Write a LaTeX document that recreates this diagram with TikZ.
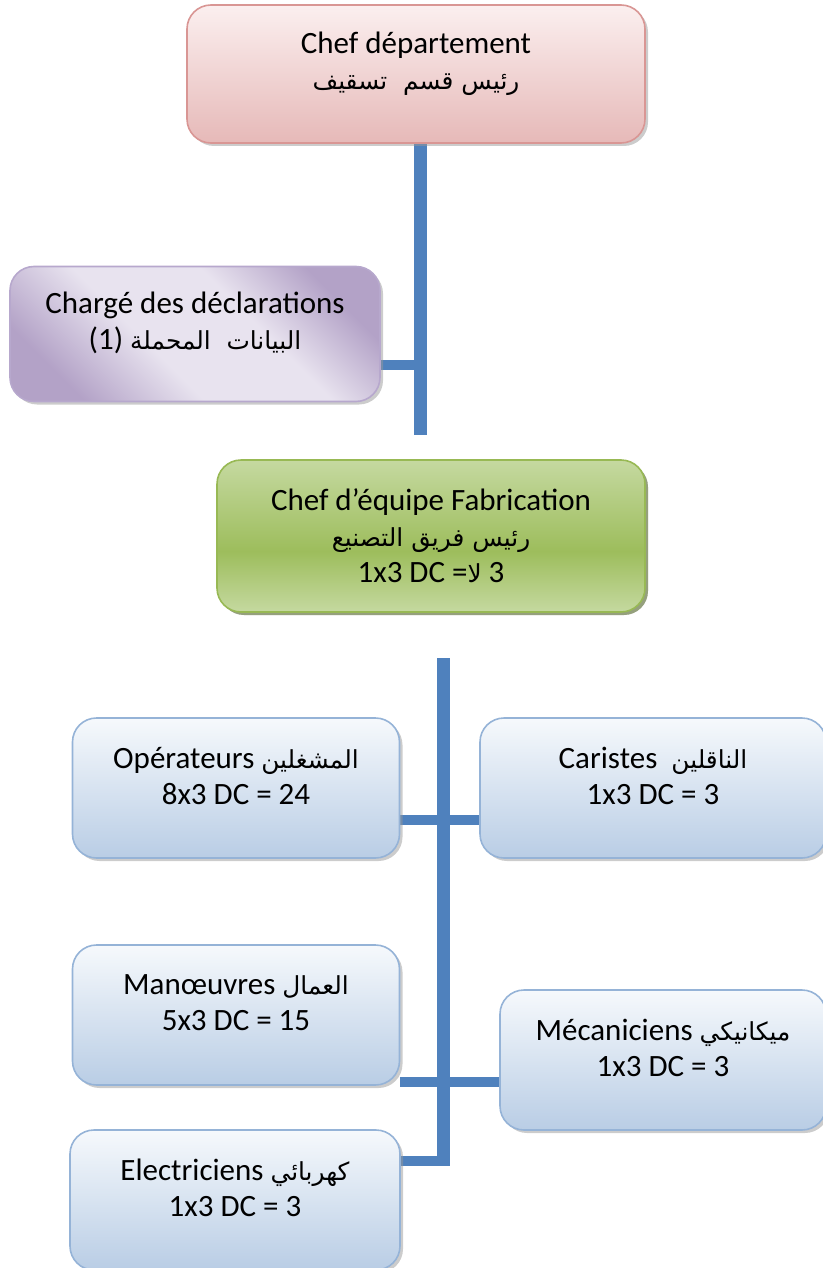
\documentclass[tikz,border=0pt]{standalone}
\usepackage{fontspec}
\setmainfont{Carlito}
\newfontfamily\arabicfont[Script=Arabic,Scale=0.8]{DejaVu Sans}
\TeXXeTstate=1
\usetikzlibrary{shadows,backgrounds}

\definecolor{linkblue}{HTML}{4F81BD}
\definecolor{pinktop}{HTML}{FBEFEF}
\definecolor{pinkbot}{HTML}{E6B9B8}
\definecolor{pinkline}{HTML}{D99694}
\definecolor{lilaclight}{HTML}{E8E3EF}
\definecolor{lilacdark}{HTML}{B3A2C7}
\definecolor{lilacline}{HTML}{B7A8CD}
\definecolor{greenlight}{HTML}{C5D9A0}
\definecolor{greenmid}{HTML}{9DBD5C}
\definecolor{greenline}{HTML}{98B954}
\definecolor{greenshadow}{HTML}{5F7530}
\definecolor{bluetop}{HTML}{F6F9FC}
\definecolor{bluebot}{HTML}{B9CDE5}
\definecolor{blueline}{HTML}{95B3D7}

\pgfdeclarehorizontalshading{lilacshade}{100bp}{color(0bp)=(lilacdark);
  color(25bp)=(lilacdark); color(42bp)=(lilaclight); color(60bp)=(lilaclight);
  color(75bp)=(lilacdark); color(100bp)=(lilacdark)}
\pgfdeclareverticalshading{greenshade}{100bp}{color(0bp)=(greenlight);
  color(25bp)=(greenlight); color(45bp)=(greenmid); color(75bp)=(greenlight);
  color(100bp)=(greenlight)}

\newcommand{\ar}[1]{{\arabicfont\beginR #1\endR}}

\begin{document}
\begin{tikzpicture}[x=1pt, y=-1pt,
  box/.style={draw, line width=1.6pt, rounded corners=24pt, align=center,
    inner sep=0pt, font=\fontsize{31}{36}\selectfont,
    drop shadow={shadow xshift=3pt, shadow yshift=-3pt, fill=black!40}},
  chiefbox/.style={box, draw=pinkline, top color=pinktop, bottom color=pinkbot},
  deskbox/.style={box, draw=lilacline, shade, shading=lilacshade, shading angle=45},
  teambox/.style={box, draw=greenline, shade, shading=greenshade,
    drop shadow={shadow xshift=3pt, shadow yshift=-3pt, fill=greenshadow}},
  staffbox/.style={box, draw=blueline, top color=bluetop, bottom color=bluebot,
    minimum height=140pt},
  trunk/.style={linkblue, line width=13pt},
  branch/.style={linkblue, line width=10pt}]

  \useasboundingbox (0,0) rectangle (822,1268);

  \node [chiefbox, minimum width=458pt, minimum height=138pt] (chef) at (416,74)
    {Chef département\\ \ar{رئيس قسم\ \ تسقيف}\\[-9pt]~};
  \node [deskbox, minimum width=370pt, minimum height=135pt] (charge) at (195,334)
    {Chargé des déclarations\\ (1) \ar{البيانات\ \ المحملة}\\[-9pt]~};
  \node [teambox, minimum width=428pt, minimum height=152pt] (team) at (431,536)
    {Chef d’équipe Fabrication\\ \ar{رئيس فريق التصنيع}\\ 1x3 DC =\ar{لا} 3};

  \node [staffbox, minimum width=327pt] (oper) at (236,788)
    {Opérateurs \ar{المشغلين}\\ 8x3 DC = 24\\[-12pt]~};
  \node [staffbox, minimum width=346pt] (cari) at (653,788)
    {Caristes\ \ \ar{الناقلين}\\ 1x3 DC = 3\\[-12pt]~};
  \node [staffbox, minimum width=327pt] (manoe) at (236,1015)
    {Manœuvres \ar{العمال}\\ 5x3 DC = 15\\[-12pt]~};
  \node [staffbox, minimum width=326pt] (meca) at (663,1060)
    {Mécaniciens \ar{ميكانيكي}\\ 1x3 DC = 3\\[-12pt]~};
  \node [staffbox, minimum width=330pt] (elec) at (235,1200)
    {Electriciens \ar{كهربائي}\\ 1x3 DC = 3\\[-12pt]~};

  % links
  \coordinate (top end) at (420,435);
  \coordinate (desk joint) at (420,365);
  \coordinate (low start) at (443,658);
  \coordinate (low end) at (443,1166);
  \coordinate (oper joint) at (443,820);
  \coordinate (manoe joint) at (443,1082);
  \coordinate (elec joint) at (443,1161);

  \begin{scope}[on background layer]
    \draw [trunk] (top end |- chef.south) -- (top end);
    \draw [branch] (desk joint -| charge.east) -- (desk joint);
    \draw [trunk] (low start) -- (low end);
    \draw [branch] (oper joint -| oper.east) -- (oper joint -| cari.west);
    \draw [branch] (manoe joint -| manoe.east) -- (manoe joint -| meca.west);
    \draw [branch] (elec joint -| elec.east) -- ([xshift=6.5pt]elec joint);
  \end{scope}
\end{tikzpicture}
\end{document}
